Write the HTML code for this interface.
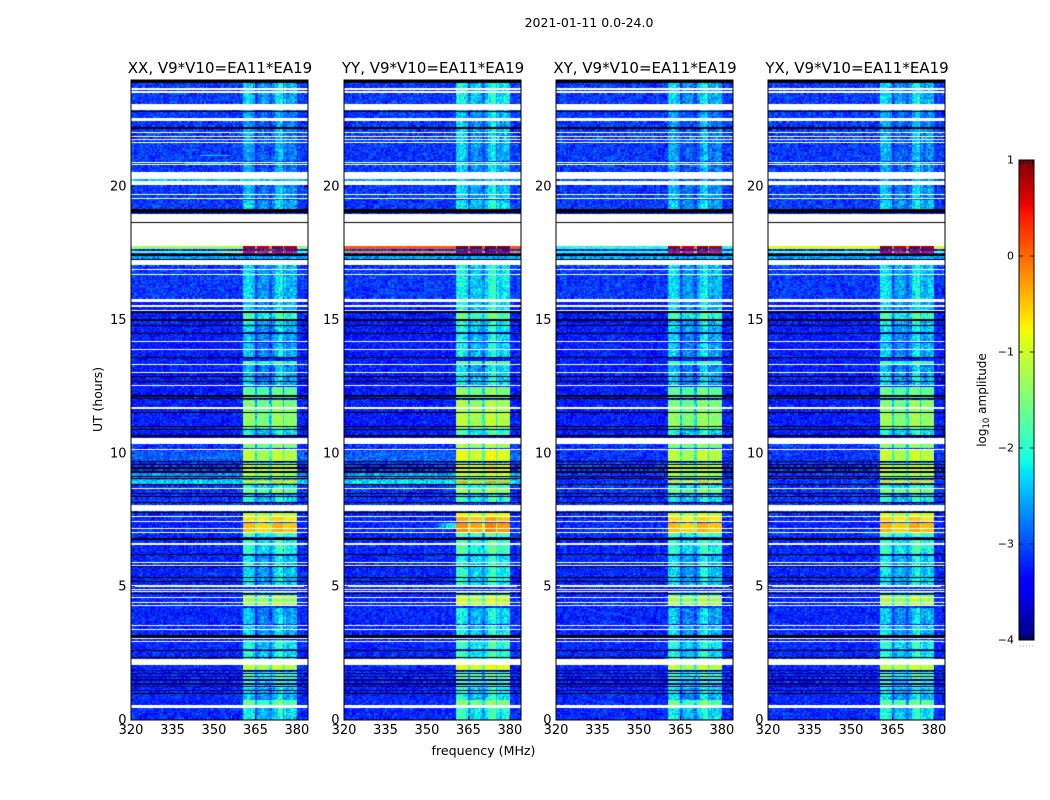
<!DOCTYPE html>
<html lang="en">
<head>
<meta charset="utf-8">
<title>2021-01-11 waterfall</title>
<style>
html,body{margin:0;padding:0;background:#fff;}
#figure{position:relative;width:1050px;height:800px;overflow:hidden;background:#fff;font-family:"DejaVu Sans","Liberation Sans",sans-serif;}
canvas{position:absolute;display:block;}
svg{position:absolute;left:0;top:0;}
text{font-family:"DejaVu Sans","Liberation Sans",sans-serif;fill:#000;}
</style>
</head>
<body>
<div id="figure">
<svg id="overlay" width="1050" height="800" style="z-index:2"></svg>
</div>
<script>
// ---------- chart data (UT hours, MHz, log10 amplitude) ----------
const polarisations = ["XX", "YY", "XY", "YX"];
const panelTitles = ["XX, V9*V10=EA11*EA19", "YY, V9*V10=EA11*EA19", "XY, V9*V10=EA11*EA19", "YX, V9*V10=EA11*EA19"];
const xTicks = [320, 335, 350, 365, 380];
const yTicks = [0, 5, 10, 15, 20];
const colorTicks = [1, 0, -1, -2, -3, -4];
const colorTickLabels = ["1", "0", "\u22121", "\u22122", "\u22123", "\u22124"];
const colorMinorTicks = [0.1, 0.3, 0.5, 0.7, 0.9];

const flaggedHours = [[23.63,23.70],[23.51,23.59],[22.88,23.10],[22.46,22.58],[22.00,22.05],[21.86,21.90],[21.76,21.80],[21.65,21.69],[20.90,20.94],[20.80,20.84],[20.29,20.55],[20.06,20.21],[19.70,19.74],[19.52,19.56],[18.68,18.97],[17.78,18.64],[17.06,17.25],[16.86,16.90],[16.70,16.74],[15.68,15.79],[15.54,15.58],[15.47,15.51],[15.32,15.36],[14.16,14.20],[13.89,13.93],[13.30,13.34],[13.00,13.04],[12.51,12.55],[11.68,11.72],[10.35,10.58],[10.14,10.18],[8.65,8.69],[7.84,8.06],[7.60,7.64],[7.41,7.45],[7.15,7.19],[7.00,7.04],[6.58,6.62],[5.87,5.91],[5.79,5.83],[4.99,5.06],[4.86,4.90],[4.79,4.83],[4.56,4.60],[4.37,4.41],[4.26,4.30],[3.54,3.58],[3.36,3.40],[3.02,3.06],[2.91,2.95],[2.06,2.29],[0.45,0.56]];

const zeroHours = [[23.88,24.00],[22.80,22.84],[22.16,22.24],[19.01,19.16],[18.64,18.68],[17.40,17.48],[17.26,17.30],[15.28,15.32],[14.98,15.02],[14.79,14.83],[14.49,14.53],[13.56,13.60],[12.85,12.89],[12.66,12.70],[12.13,12.17],[12.02,12.06],[11.50,11.54],[10.97,11.01],[10.86,10.90],[10.63,10.67],[9.66,9.70],[9.55,9.59],[9.43,9.47],[9.28,9.32],[9.10,9.14],[9.02,9.06],[8.80,8.84],[8.46,8.50],[8.35,8.39],[8.12,8.16],[7.76,7.80],[6.75,6.83],[6.17,6.21],[5.72,5.76],[5.34,5.38],[5.16,5.20],[4.71,4.75],[3.08,3.19],[2.59,2.63],[2.31,2.35],[0.96,1.00]];

// thin rows that read as very dark navy rather than pure black
const faintHours = [[1.82,1.86],[1.74,1.78],[1.60,1.64],[1.48,1.52],[1.33,1.37],[1.22,1.26],[1.07,1.11]];

const backgroundBands = [[0,7.8,-3.22],[7.8,10.4,-3.15],[10.4,15.7,-3.28],[15.7,17.3,-3.12],[17.3,17.4,-2.6],[19.1,24,-3.12]];

// [start, end, XX, YY, XY, YX] broadband rows
const broadbandRows = [[17.65,17.78,-1.3,0.1,-2.0,-0.9],[17.50,17.62,-1.6,-0.2,-1.9,-1.5],[8.84,9.02,-2.35,-2.3,-3.15,-3.15],[8.95,9.30,-2.7,-2.6,-3.15,-3.15],[20.21,20.29,-2.4,-2.6,-3.0,-3.0],[9.7,10.1,-2.95,-2.9,-3.2,-3.2]];

// [start, end, peak level] inside the 360-380 MHz interference band
const rfiBands = [[0,0.45,-2.35],[0.56,0.75,-1.75],[0.75,0.96,-2.55],[0.96,1.20,-2.45],[1.20,1.50,-2.1],[1.50,1.82,-1.9],[1.86,2.06,-1.15],[2.29,2.60,-2.3],[2.63,3.00,-2.25],[3.19,3.55,-2.5],[3.58,4.20,-2.6],[4.30,4.70,-1.3],[4.75,4.85,-1.9],[5.06,6.17,-2.45],[6.21,6.75,-2.15],[6.83,7.00,-1.9],[7.04,7.41,-0.5],[7.45,7.60,-0.7],[7.64,7.76,-1.1],[8.16,8.35,-2.3],[8.39,8.46,-2.4],[8.50,8.65,-1.6],[8.69,8.80,-2.2],[8.88,8.96,-0.65],[8.96,9.02,-1.5],[9.06,9.10,-1.5],[9.14,9.28,-1.3],[9.32,9.43,-1.05],[9.47,9.55,-1.1],[9.59,9.66,-1.8],[9.70,10.14,-1.15],[10.18,10.35,-1.5],[10.67,10.97,-2.3],[10.97,11.50,-1.4],[11.54,12.02,-1.5],[12.06,12.50,-1.7],[12.55,13.00,-2.6],[13.04,13.30,-2.7],[13.34,13.46,-1.9],[13.60,14.16,-2.6],[14.20,14.50,-2.6],[14.53,15.00,-2.5],[15.02,15.28,-2.05],[15.36,15.68,-2.55],[15.79,17.06,-2.5],[17.06,17.30,-2.25],[17.50,17.62,0.45],[17.65,17.78,0.8],[19.16,19.52,-2.55],[19.56,20.06,-2.7],[20.21,20.90,-2.8],[20.94,23.00,-2.8],[23.10,23.88,-2.55]];

const subbandStart = [360.4, 365.6, 370.9, 375.6];
const subbandEnd = [364.9, 370.2, 375.0, 380.0];
const subbandGain = [0.05, -0.1, 0.12, -0.02];
const rfiPolOffset = [0, 0.25, 0, 0.06];
// per-MHz fine structure of the quiet-time band, 360 to 380 MHz
const bandFineShape = [0.05,0.15,0.2,0.1,-0.05,-0.25,-0.1,0,-0.05,-0.1,-0.15,-0.3,0.05,0.2,0.25,0.1,-0.1,0,0.1,0.05,-0.1];

// [panel, start, end, fStart, fEnd, level]
const leakPatches = [[1,7.15,7.41,354,357,-2.65],[1,7.15,7.41,357,360.4,-2.2],[0,21.13,21.18,345,355,-2.25],[0,20.85,20.9,340,356,-2.5],[1,17.48,17.62,350,360.4,-0.6],[0,17.48,17.62,352,360.4,-1.1]];

// [panel, frequency, hour, level]
const specks = [[0,342,20.15,0.6],[0,341,19.6,-0.4],[0,340,22.95,-0.6],[0,323,20.55,-0.6],[0,352,22.75,0.6],[0,349,0.22,-0.3],[0,356,0.15,-1.2],[0,343,12.1,-1.4],[2,324,20.8,-1.4],[2,330,16.1,-1.0],[3,324,20.9,-1.3],[2,345,7.9,-1.2],[1,336,16.0,-1.4]];

// hand-typed speckle offsets for the receiver noise
const noiseTile = [0.4,-0.7,0.1,0.9,-0.3,-1,0.6,0.2,-0.5,0.8,-0.1,0.3,-0.9,0.5,0,-0.4,1,-0.6,0.2,-0.2,0.7,-0.8,0.4,-0.3,0.1,0.6,-1,0.9,-0.1,0.3,-0.5,0.5,-0.7,0.2,0.8,-0.4,0,1,-0.9,0.3,-0.2,0.6,-0.6,0.1,0.4,-0.8,0.7,-0.3,0.9,-0.5,0.2,-0.1,0.5,-0.9,0.3,0.6,-0.2,-0.7,1,0,-0.4,0.8,-0.6,0.1,0.4,-0.3,0.7];

// ---------- layout ----------
const panelLefts = [131, 344, 556, 768];
const panelW = 177, plotTop = 80, plotBottom = 720;
const fMin = 320, fMax = 384, tMin = 0, tMax = 24;
const nCols = 128, nRows = 480;
const cbLeft = 1019, cbRight = 1034, cbTop = 160, cbBottom = 640;
const cMin = -4, cMax = 1;
const SVGNS = "http://www.w3.org/2000/svg";
const figure = document.getElementById("figure");
const overlay = document.getElementById("overlay");

function xScale(f) { return (f - fMin) / (fMax - fMin) * panelW; }
function yScale(t) { return (plotBottom - plotTop) * (1 - (t - tMin) / (tMax - tMin)); }
function cbScale(v) { return cbBottom - (v - cMin) / (cMax - cMin) * (cbBottom - cbTop); }

function seg(t, pts) {
  if (t <= pts[0][0]) return pts[0][1];
  for (let i = 1; i < pts.length; i++) {
    if (t <= pts[i][0]) {
      const a = pts[i - 1], b = pts[i];
      return a[1] + (b[1] - a[1]) * (t - a[0]) / (b[0] - a[0]);
    }
  }
  return pts[pts.length - 1][1];
}
const jetR = [[0,0],[0.35,0],[0.66,1],[0.89,1],[1,0.5]];
const jetG = [[0,0],[0.125,0],[0.375,1],[0.64,1],[0.91,0],[1,0]];
const jetB = [[0,0.5],[0.11,1],[0.34,1],[0.65,0],[1,0]];
function jet(v) {
  const t = Math.max(0, Math.min(1, (v - cMin) / (cMax - cMin)));
  return "rgb(" + Math.round(255 * seg(t, jetR)) + "," + Math.round(255 * seg(t, jetG)) + "," + Math.round(255 * seg(t, jetB)) + ")";
}

function cellValue(p, t, f) {
  let v = -3.2;
  for (const b of backgroundBands) { if (t >= b[0] && t < b[1]) { v = b[2]; break; } }
  for (const b of broadbandRows) { if (t >= b[0] && t < b[1]) { v = Math.max(v, b[2 + p]); } }
  if (f >= subbandStart[0] && f < subbandEnd[subbandEnd.length - 1]) {
    let level = null;
    for (const b of rfiBands) { if (t >= b[0] && t < b[1]) { level = b[2]; break; } }
    if (level !== null) {
      level += rfiPolOffset[p];
      const quiet = level < -1.7;
      let r = level - (quiet ? 0.35 : 0.9);
      for (let i = 0; i < subbandStart.length; i++) {
        if (f >= subbandStart[i] && f < subbandEnd[i]) { r = level + subbandGain[i]; }
      }
      if (quiet) { r += bandFineShape[Math.floor(f - 360)] || 0; }
      v = Math.max(v, r);
    }
  }
  for (const l of leakPatches) {
    if (l[0] === p && t >= l[1] && t < l[2] && f >= l[3] && f < l[4]) { v = Math.max(v, l[5]); }
  }
  return v;
}

function drawPanel(p) {
  const canvas = document.createElement("canvas");
  
  
  canvas.width = panelW;
  canvas.height = plotBottom - plotTop;
  canvas.style.left = panelLefts[p] + "px";
  canvas.style.top = plotTop + "px";
  figure.appendChild(canvas);
  const ctx = canvas.getContext("2d");
  ctx.fillStyle = "#fff";
  ctx.fillRect(0, 0, canvas.width, canvas.height);
  const df = (fMax - fMin) / nCols, dt = (tMax - tMin) / nRows;
  for (let r = 0; r < nRows; r++) {
    const t = tMin + r * dt;
    const y1 = Math.round(yScale(t)), y0 = Math.round(yScale(t + dt));
    for (let c = 0; c < nCols; c++) {
      const f = fMin + c * df;
      const x0 = Math.round(xScale(f)), x1 = Math.round(xScale(f + df));
      const base = cellValue(p, t + dt / 2, f + df / 2);
      const n = noiseTile[(c * c * 7 + r * r * 11 + c * r * 3 + p * 5 + r * 13) % noiseTile.length];
      const amp = base > -1 ? 0.08 : (base > -2 ? 0.2 : 0.36);
      ctx.fillStyle = jet(base + n * amp);
      ctx.fillRect(x0, y0, x1 - x0, y1 - y0);
    }
  }
  for (const s of specks) {
    if (s[0] === p) {
      ctx.fillStyle = jet(s[3]);
      ctx.fillRect(Math.round(xScale(s[1])), Math.round(yScale(s[2])), 1, 1);
    }
  }
  ctx.fillStyle = "#000";
  for (const z of zeroHours) {
    const y0 = Math.round(yScale(z[1])), y1 = Math.round(yScale(z[0]));
    ctx.fillRect(0, y0, panelW, Math.max(1, y1 - y0));
  }
  ctx.fillStyle = "#00006a";
  for (const z of faintHours) {
    const y0 = Math.round(yScale(z[1])), y1 = Math.round(yScale(z[0]));
    ctx.fillRect(0, y0, panelW, Math.max(1, y1 - y0));
  }
  ctx.fillStyle = "#fff";
  for (const w of flaggedHours) {
    const y0 = Math.round(yScale(w[1])), y1 = Math.round(yScale(w[0]));
    ctx.fillRect(0, y0, panelW, Math.max(1, y1 - y0));
  }
}

function svgEl(tag, attrs, parent) {
  const el = document.createElementNS(SVGNS, tag);
  for (const k in attrs) { el.setAttribute(k, attrs[k]); }
  (parent || overlay).appendChild(el);
  return el;
}

function drawAxes(p) {
  const L = panelLefts[p], R = L + panelW;
  const pol = polarisations[p].toLowerCase();
  const frame = svgEl("rect", {x: L, y: plotTop, width: panelW, height: plotBottom - plotTop, fill: "none", stroke: "#000", "stroke-width": 1});
  
  
  const title = svgEl("text", {x: L + panelW / 2 + 0.5, y: 73, "text-anchor": "middle", "font-size": 15});
  title.textContent = panelTitles[p];
  
  
  xTicks.forEach(function (f) {
    const x = L + xScale(f);
    const t1 = svgEl("line", {x1: x, x2: x, y1: plotBottom, y2: plotBottom - 4, stroke: "#000", "stroke-width": 0.8});
    
    
    const t2 = svgEl("line", {x1: x, x2: x, y1: plotTop, y2: plotTop + 4, stroke: "#000", "stroke-width": 0.8});
    
    
    const lab = svgEl("text", {x: x, y: 734, "text-anchor": "middle", "font-size": 13});
    lab.textContent = String(f);
    
    
  });
  yTicks.forEach(function (t) {
    const y = plotTop + yScale(t);
    const t1 = svgEl("line", {x1: L, x2: L + 4, y1: y, y2: y, stroke: "#000", "stroke-width": 0.8});
    
    
    const t2 = svgEl("line", {x1: R, x2: R - 4, y1: y, y2: y, stroke: "#000", "stroke-width": 0.8});
    
    
    const lab = svgEl("text", {x: L - 4.5, y: y + 4, "text-anchor": "end", "font-size": 13});
    lab.textContent = String(t);
    
    
  });
}

function drawColorbar() {
  const canvas = document.createElement("canvas");
  
  
  canvas.width = cbRight - cbLeft;
  canvas.height = cbBottom - cbTop;
  canvas.style.left = cbLeft + "px";
  canvas.style.top = cbTop + "px";
  figure.appendChild(canvas);
  const ctx = canvas.getContext("2d");
  for (let i = 0; i < 256; i++) {
    const v0 = cMin + (cMax - cMin) * i / 256, v1 = cMin + (cMax - cMin) * (i + 1) / 256;
    const y1 = Math.round(cbScale(v0) - cbTop), y0 = Math.round(cbScale(v1) - cbTop);
    ctx.fillStyle = jet((v0 + v1) / 2);
    ctx.fillRect(0, y0, canvas.width, y1 - y0);
  }
  const frame = svgEl("rect", {x: cbLeft, y: cbTop, width: cbRight - cbLeft, height: cbBottom - cbTop, fill: "none", stroke: "#000", "stroke-width": 1});
  
  
  colorTicks.forEach(function (v, i) {
    const y = cbScale(v);
    const t1 = svgEl("line", {x1: cbLeft, x2: cbLeft + 4, y1: y, y2: y, stroke: "#000", "stroke-width": 0.8});
    
    
    const t2 = svgEl("line", {x1: cbRight, x2: cbRight - 4, y1: y, y2: y, stroke: "#000", "stroke-width": 0.8});
    
    
    const lab = svgEl("text", {x: 1014, y: y + 3.5, "text-anchor": "end", "font-size": 11});
    lab.textContent = colorTickLabels[i];
    
    
  });
  colorMinorTicks.forEach(function (m) {
    const x = cbLeft + m * (cbRight - cbLeft);
    const t1 = svgEl("line", {x1: x, x2: x, y1: cbTop, y2: cbTop + 4, stroke: "#000", "stroke-width": 0.8});
    
    
    const t2 = svgEl("line", {x1: x, x2: x, y1: cbBottom, y2: cbBottom - 4, stroke: "#000", "stroke-width": 0.8});
    
    
    const d = svgEl("rect", {x: x - 0.5, y: 645.5, width: 1, height: 1, fill: "#aaa"});
    
    
  });
}

polarisations.forEach(function (_, p) { drawPanel(p); });
polarisations.forEach(function (_, p) { drawAxes(p); });
drawColorbar();

const suptitle = svgEl("text", {x: 589, y: 27, "text-anchor": "middle", "font-size": 12.5});
suptitle.textContent = "2021-01-11 0.0-24.0";



const xTitle = svgEl("text", {x: 483.5, y: 755, "text-anchor": "middle", "font-size": 12.6});
xTitle.textContent = "frequency (MHz)";



const yTitle = svgEl("text", {x: 0, y: 0, "text-anchor": "middle", "font-size": 12.4, transform: "translate(102,399.5) rotate(-90)"});
yTitle.textContent = "UT (hours)";



const cbTitle = svgEl("text", {x: 0, y: 0, "text-anchor": "middle", "font-size": 12, transform: "translate(986,400) rotate(-90)"});


const t1 = svgEl("tspan", {}, cbTitle);
t1.textContent = "log";
const t2 = svgEl("tspan", {dy: 3, "font-size": 8.5}, cbTitle);
t2.textContent = "10";
const t3 = svgEl("tspan", {dy: -3}, cbTitle);
t3.textContent = " amplitude";
</script>
</body>
</html>
